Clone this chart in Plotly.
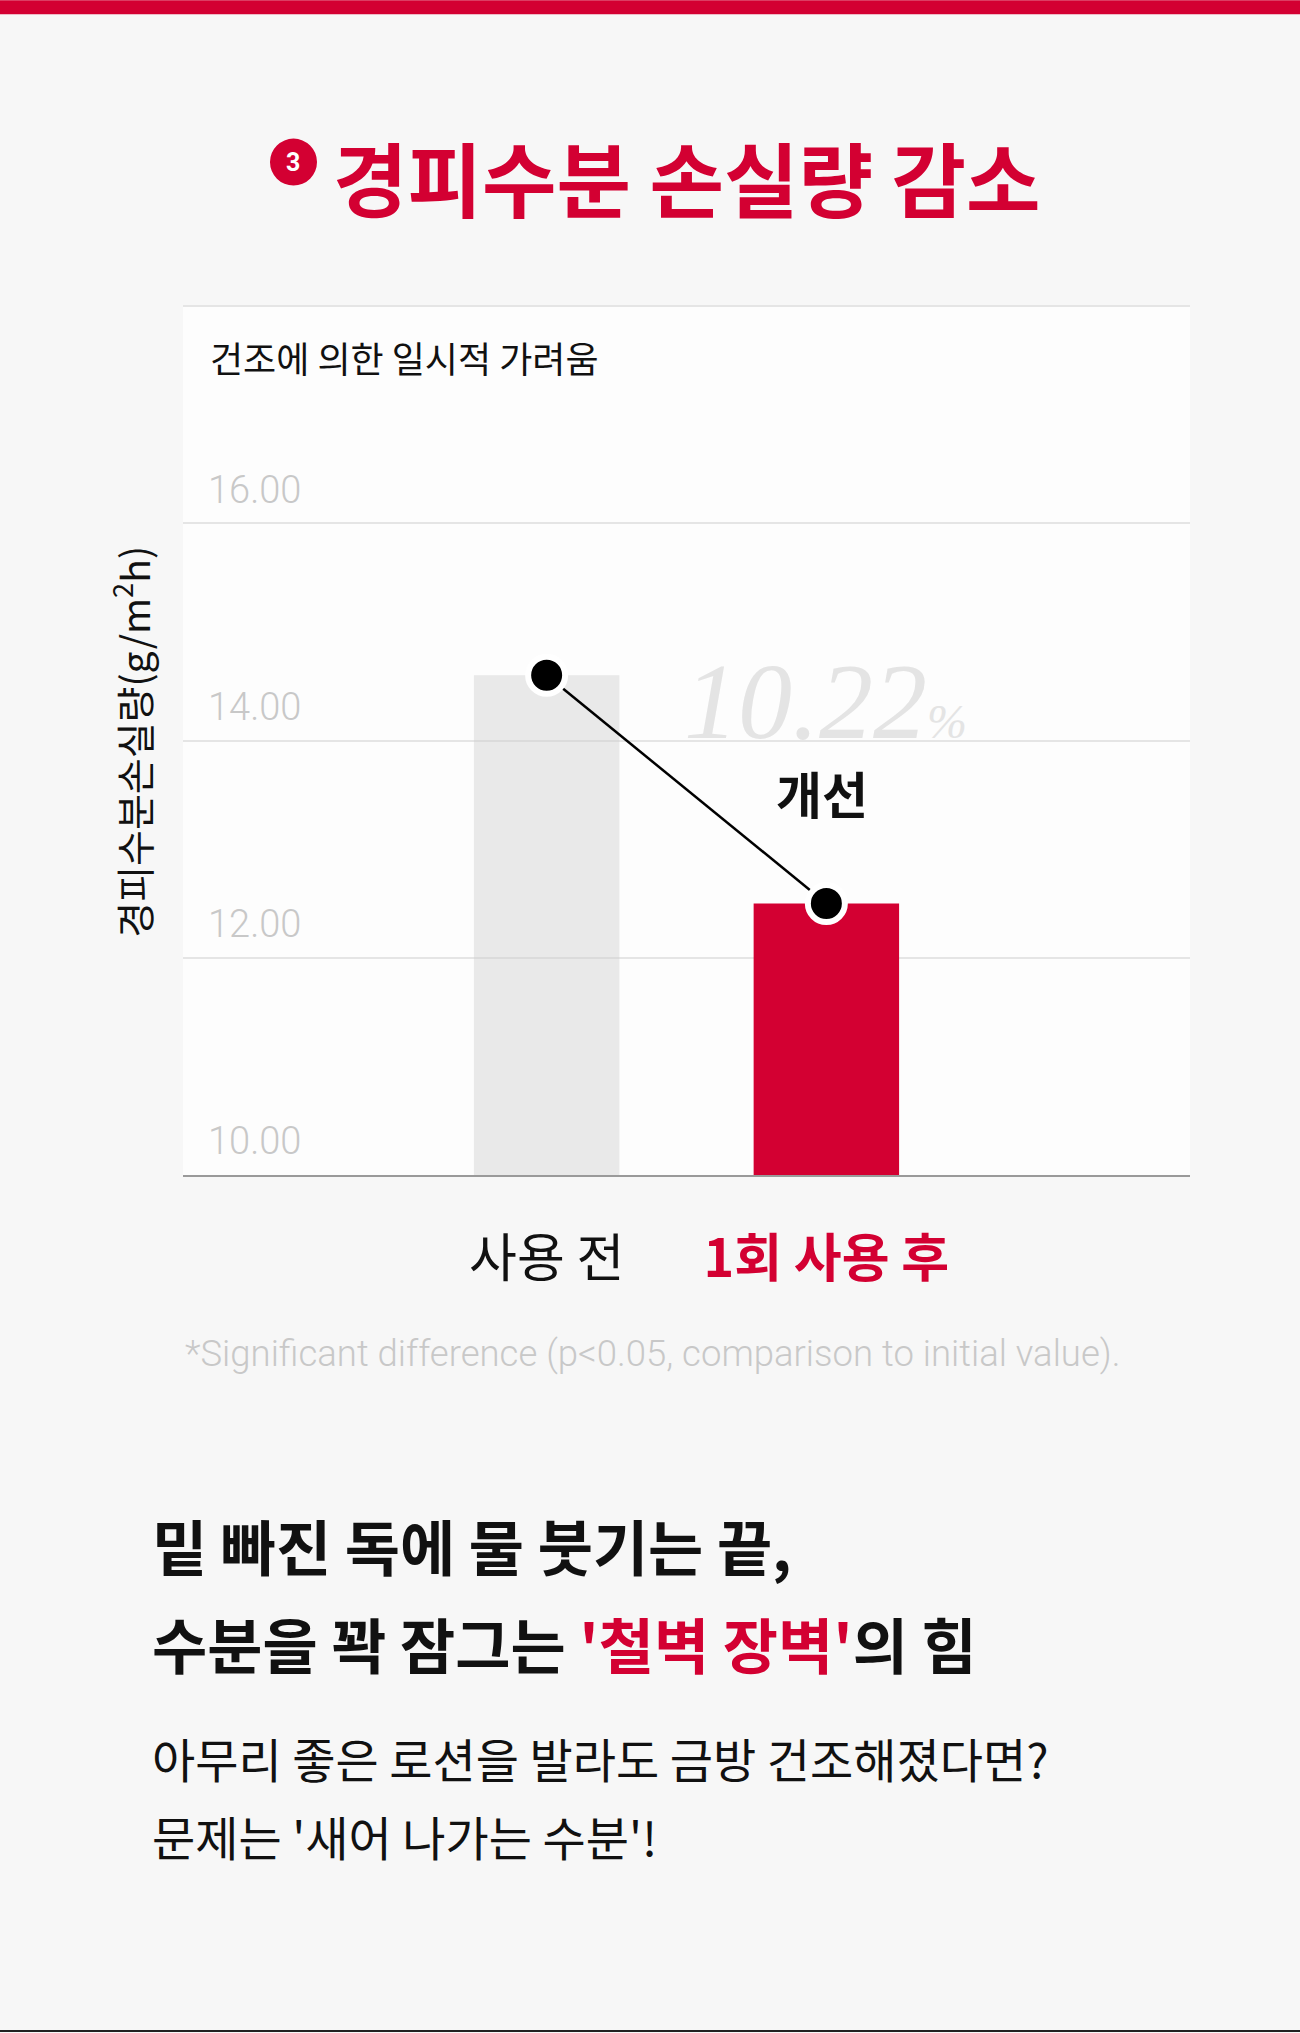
import plotly.graph_objects as go

# chart data
categories = ["사용 전", "1회 사용 후"]
values = [14.6, 12.5]
y_ticks = [10, 12, 14, 16, 18]
y_tick_labels = ["10.00", "12.00", "14.00", "16.00", " "]
improvement = "10.22"
improvement_word = "개선"

RED = "#d30032"
GRAY_BAR = "rgba(205,205,205,0.42)"
KR = "Noto Sans CJK KR"

W, H = 1300, 2033
PLOT_L, PLOT_R, PLOT_T, PLOT_B = 183, 1190, 306, 1175.5


def px_x(px):
    return (px - PLOT_L) / (PLOT_R - PLOT_L)


def px_y(py):
    return (PLOT_B - py) / (PLOT_B - PLOT_T)


fig = go.Figure()

fig.add_trace(
    go.Bar(
        x=categories,
        y=values,
        width=0.52,
        marker=dict(color=[GRAY_BAR, RED], line_width=0),
        hoverinfo="skip",
    )
)

fig.add_trace(
    go.Scatter(
        x=categories,
        y=values,
        mode="lines+markers",
        line=dict(color="black", width=2.5),
        marker=dict(size=37, color="black", line=dict(color="white", width=6)),
        hoverinfo="skip",
    )
)

tick_text = [
    categories[0],
    f"<span style='color:{RED}'><b>{categories[1]}</b></span>",
]

annotations = [
    # title
    dict(x=px_x(331), y=px_y(175), text="<b>경피수분 손실량 감소</b>",
         xanchor="left", yanchor="middle",
         font=dict(family=KR, size=81, color=RED)),
    dict(x=px_x(293), y=px_y(162), text="<b>3</b>",
         xanchor="center", yanchor="middle",
         font=dict(family="Roboto", size=25, color="white")),
    # subtitle inside panel
    dict(x=px_x(208), y=px_y(357), text="건조에 의한 일시적 가려움",
         xanchor="left", yanchor="middle",
         font=dict(family=KR, size=36, color="#111111")),
    # y axis title
    dict(x=px_x(131), y=px_y(742), text="경피수분손실량(g/m<sup>2</sup>h)",
         textangle=-90, xanchor="center", yanchor="middle",
         font=dict(family=KR, size=39, color="#111111")),
    # improvement
    dict(x=px_x(682), y=14, yref="y", text=f"{improvement}<span style='font-size:48px'>%</span>",
         xanchor="left", yanchor="bottom", yshift=-22,
         font=dict(family="Liberation Serif", size=108, style="italic", color="#e4e4e4")),
    dict(x=px_x(822), y=px_y(792), text=f"<b>{improvement_word}</b>",
         xanchor="center", yanchor="middle",
         font=dict(family=KR, size=50, color="#111111")),
    # footnote
    dict(x=px_x(183), y=px_y(1354),
         text="*Significant difference (p&lt;0.05, comparison to initial value).",
         xanchor="left", yanchor="middle",
         font=dict(family="Roboto", size=36.5, color="#c8c8c8", weight=300)),
    # bottom copy
    dict(x=px_x(150), y=px_y(1545), text="<b>밑 빠진 독에 물 붓기는 끝,</b>",
         xanchor="left", yanchor="middle",
         font=dict(family=KR, size=60, color="#111111")),
    dict(x=px_x(150), y=px_y(1643),
         text=f"<b>수분을 꽉 잠그는 <span style='color:{RED}'>'철벽 장벽'</span>의 힘</b>",
         xanchor="left", yanchor="middle",
         font=dict(family=KR, size=60, color="#111111")),
    dict(x=px_x(150), y=px_y(1758), text="아무리 좋은 로션을 발라도 금방 건조해졌다면?",
         xanchor="left", yanchor="middle",
         font=dict(family=KR, size=47, color="#111111")),
    dict(x=px_x(150), y=px_y(1836), text="문제는 '새어 나가는 수분'!",
         xanchor="left", yanchor="middle",
         font=dict(family=KR, size=47, color="#111111")),
]
for a in annotations:
    a.setdefault("xref", "paper")
    a.setdefault("yref", "paper")
    a["showarrow"] = False

shapes = [
    # top red band
    dict(type="rect", xref="paper", yref="paper",
         x0=px_x(0), x1=px_x(W), y0=px_y(14), y1=px_y(0),
         fillcolor=RED, line_width=0, layer="above"),
    # numbered circle
    dict(type="circle", xref="paper", yref="paper",
         x0=px_x(270), x1=px_x(317), y0=px_y(185.5), y1=px_y(138.5),
         fillcolor=RED, line_width=0),
    # panel top edge
    dict(type="line", xref="paper", yref="paper",
         x0=0, x1=1, y0=1, y1=1,
         line=dict(color="#e5e5e5", width=2)),
    # bottom dark edge
    dict(type="rect", xref="paper", yref="paper",
         x0=px_x(0), x1=px_x(W), y0=px_y(H), y1=px_y(H - 2),
         fillcolor="#222222", line_width=0),
]

fig.update_layout(
    width=W,
    height=H,
    margin=dict(l=PLOT_L, r=W - PLOT_R, t=PLOT_T, b=H - PLOT_B, pad=0),
    paper_bgcolor="#f7f7f7",
    plot_bgcolor="#fdfdfd",
    showlegend=False,
    annotations=annotations,
    shapes=shapes,
    xaxis=dict(
        type="category",
        range=[-1.3, 2.3],
        tickvals=categories,
        ticktext=tick_text,
        tickfont=dict(family=KR, size=52, color="#111111"),
        ticklabelstandoff=38,
        showgrid=False,
        showline=True,
        linecolor="#9a9a9a",
        linewidth=2,
        ticks="",
        fixedrange=True,
    ),
    yaxis=dict(
        range=[10, 18],
        tickvals=y_ticks,
        ticktext=y_tick_labels,
        ticklabelposition="inside",
        ticklabeloverflow="allow",
        ticklabelshift=-34,
        ticklabelstandoff=22,
        tickfont=dict(family="Roboto", size=38, color="#c8c8c8", weight=300),
        showgrid=True,
        gridcolor="#e5e5e5",
        gridwidth=1.5,
        zeroline=False,
        showline=False,
        ticks="",
        fixedrange=True,
    ),
)

fig.write_html(
    "out.html",
    config={"displayModeBar": False},
    post_script="document.body.style.margin='0';document.body.style.overflow='hidden';",
)
